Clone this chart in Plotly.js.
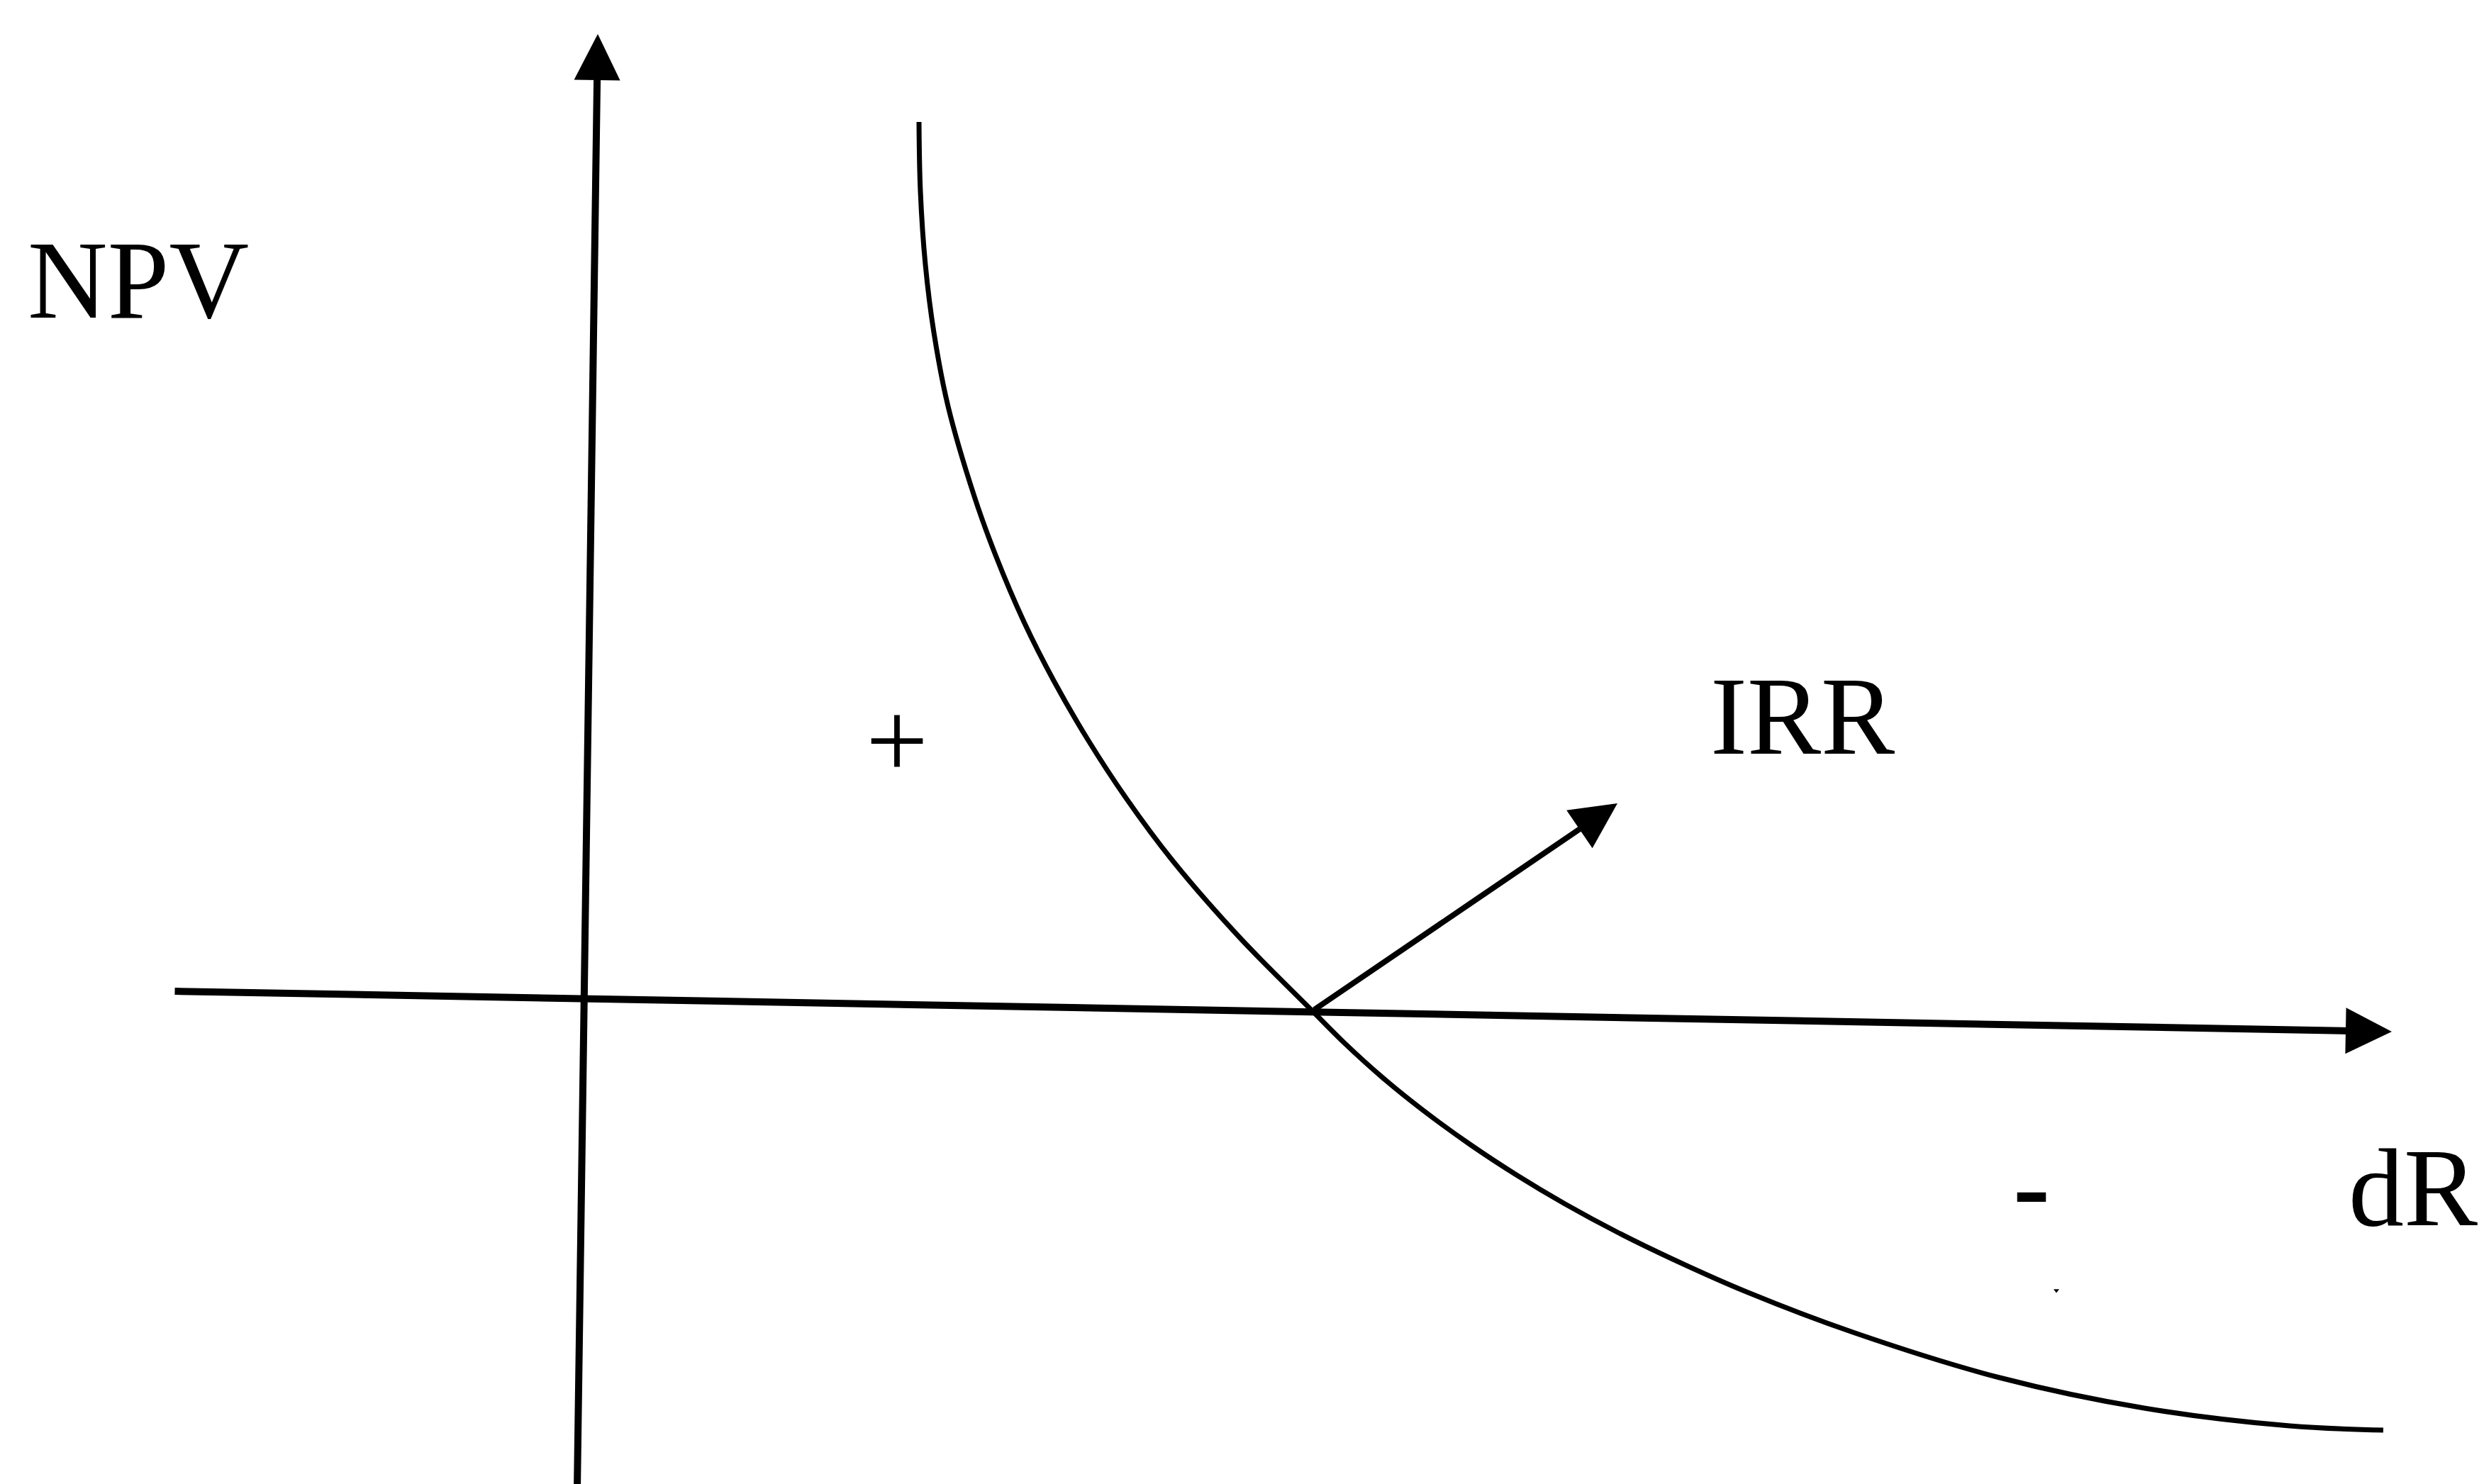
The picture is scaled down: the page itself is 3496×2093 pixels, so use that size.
<!DOCTYPE html>
<html>
<head>
<meta charset="utf-8">
<script src="https://cdn.plot.ly/plotly-3.0.1.min.js"></script>
<style>
  html, body { margin: 0; padding: 0; background: #fff; overflow: hidden; }
  #chart { width: 3496px; height: 2093px; }
</style>
</head>
<body>
<div id="chart"></div>
<script>
// NPV profile (page units, y grows downward)
var curveRate = [1296, 1298, 1305, 1317, 1337, 1374, 1404, 1444, 1486, 1534, 1589, 1653, 1748, 1850, 1897, 1950, 2007, 2073, 2140, 2207, 2283, 2357, 2463, 2616, 2820, 3024, 3229, 3361];
var curveNpv  = [172, 270, 373, 469, 573, 700, 783, 877, 960, 1043, 1127, 1213, 1322, 1425, 1472, 1520, 1566, 1614, 1658, 1698, 1739, 1775, 1822, 1880, 1943, 1986, 2011, 2017];

// axes and the IRR pointer: [tailX, tailY, tipX, tipY]
var npvAxis = [814, 2100, 843, 48];
var rateAxis = [245, 1398, 3373, 1455];
var irrArrow = [1852, 1425, 2281, 1133];

// text on the sketch
var labelText = ['NPV', '+', 'IRR', '-', 'dR'];
var labelX = [195, 1265, 2542, 2865, 3403];
var labelY = [395, 1044, 1010, 1672, 1675];
var labelWeight = ['normal', 'normal', 'normal', 'bold', 'normal'];

// stray speck in the scan
var speckX = [2900];
var speckY = [1820];

var data = [{
  x: curveRate,
  y: curveNpv,
  mode: 'lines',
  type: 'scatter',
  line: {color: '#000', width: 7, shape: 'spline', smoothing: 1, simplify: false},
  hoverinfo: 'skip'
}, {
  x: speckX,
  y: speckY,
  mode: 'markers',
  type: 'scatter',
  marker: {color: '#000', size: 7, symbol: 'triangle-down'},
  hoverinfo: 'skip'
}];

function arrow(seg, width, size) {
  return {
    x: seg[2], y: seg[3], ax: seg[0], ay: seg[1],
    xref: 'x', yref: 'y', axref: 'x', ayref: 'y',
    text: '', showarrow: true,
    arrowhead: 2, arrowwidth: width, arrowsize: size, arrowcolor: '#000'
  };
}

var annotations = [
  arrow(npvAxis, 10, 1.3),
  arrow(rateAxis, 10, 1.3),
  arrow(irrArrow, 8, 1.62)
];

for (var i = 0; i < labelText.length; i++) {
  annotations.push({
    x: labelX[i], y: labelY[i], xref: 'x', yref: 'y',
    text: labelText[i], showarrow: false,
    xanchor: 'center', yanchor: 'middle',
    font: {family: 'Liberation Serif, Times New Roman, serif', size: 156, color: '#000', weight: labelWeight[i]}
  });
}

var layout = {
  width: 3496,
  height: 2093,
  margin: {l: 0, r: 0, t: 0, b: 0, pad: 0},
  paper_bgcolor: '#fff',
  plot_bgcolor: '#fff',
  showlegend: false,
  xaxis: {range: [0, 3496], visible: false, fixedrange: true},
  yaxis: {range: [2093, 0], visible: false, fixedrange: true},
  annotations: annotations
};

Plotly.newPlot('chart', data, layout, {staticPlot: true});
</script>
</body>
</html>
